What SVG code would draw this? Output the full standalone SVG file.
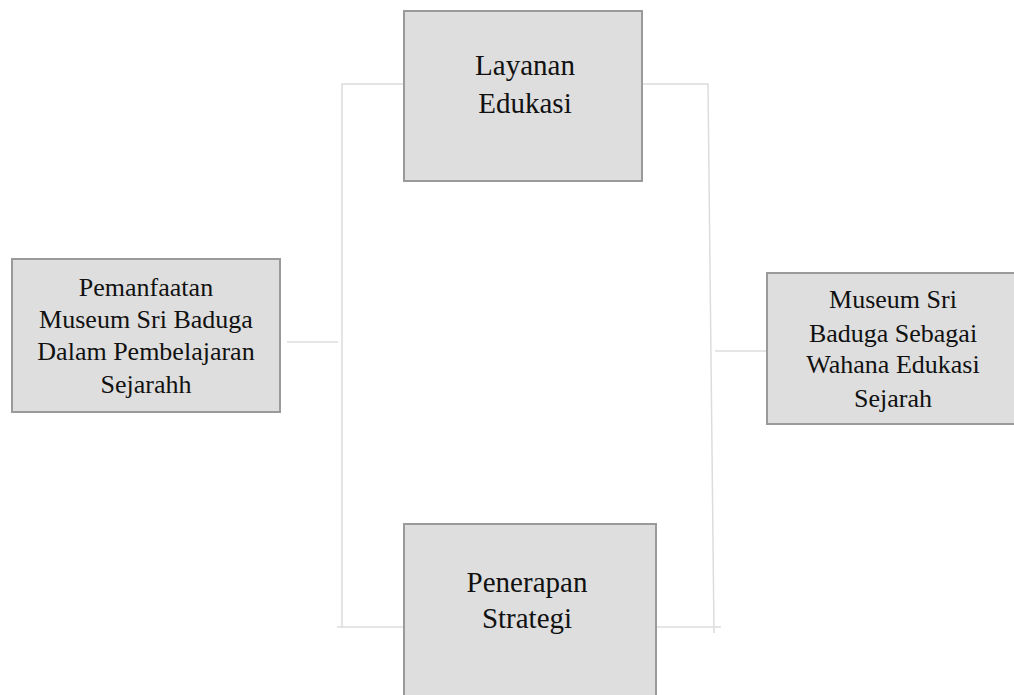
<svg xmlns="http://www.w3.org/2000/svg" width="1014" height="695" viewBox="0 0 1014 695">
<style>
.box{fill:#dedede;stroke:#9a9a9a;stroke-width:2}
.conn{fill:none;stroke:#dcdcdc;stroke-width:1.5}
.t{font-family:"Liberation Serif","Times New Roman",serif;fill:#111;text-anchor:middle}
</style>
<rect width="1014" height="695" fill="#fff"/>
<g id="connectors">
<polyline class="conn" points="404,84 342,84 342,628"/>
<line class="conn" x1="337" y1="627" x2="404" y2="627"/>
<line class="conn" x1="287" y1="342" x2="338" y2="342"/>
<polyline class="conn" points="642,84 708,84 714,633"/>
<line class="conn" x1="656" y1="627" x2="721" y2="627"/>
<line class="conn" x1="715" y1="351" x2="767" y2="351"/>
</g>
<g id="node-layanan">
<rect class="box" x="404" y="11" width="238" height="170"/>
<text class="t" font-size="29" x="525" y="75">Layanan</text>
<text class="t" font-size="29" x="525" y="113">Edukasi</text>
</g>
<g id="node-pemanfaatan">
<rect class="box" x="12" y="259" width="268" height="153"/>
<text class="t" font-size="26" x="146" y="296">Pemanfaatan</text>
<text class="t" font-size="26" x="146" y="328">Museum Sri Baduga</text>
<text class="t" font-size="26" x="146" y="360">Dalam Pembelajaran</text>
<text class="t" font-size="26" x="146" y="393">Sejarahh</text>
</g>
<g id="node-museum">
<rect class="box" x="767" y="273" width="254" height="151"/>
<text class="t" font-size="26" x="893" y="308">Museum Sri</text>
<text class="t" font-size="26" x="893" y="342">Baduga Sebagai</text>
<text class="t" font-size="26" x="893" y="373">Wahana Edukasi</text>
<text class="t" font-size="26" x="893" y="407">Sejarah</text>
</g>
<g id="node-penerapan">
<rect class="box" x="404" y="524" width="252" height="180"/>
<text class="t" font-size="29" x="527" y="592">Penerapan</text>
<text class="t" font-size="29" x="527" y="628">Strategi</text>
</g>
</svg>
